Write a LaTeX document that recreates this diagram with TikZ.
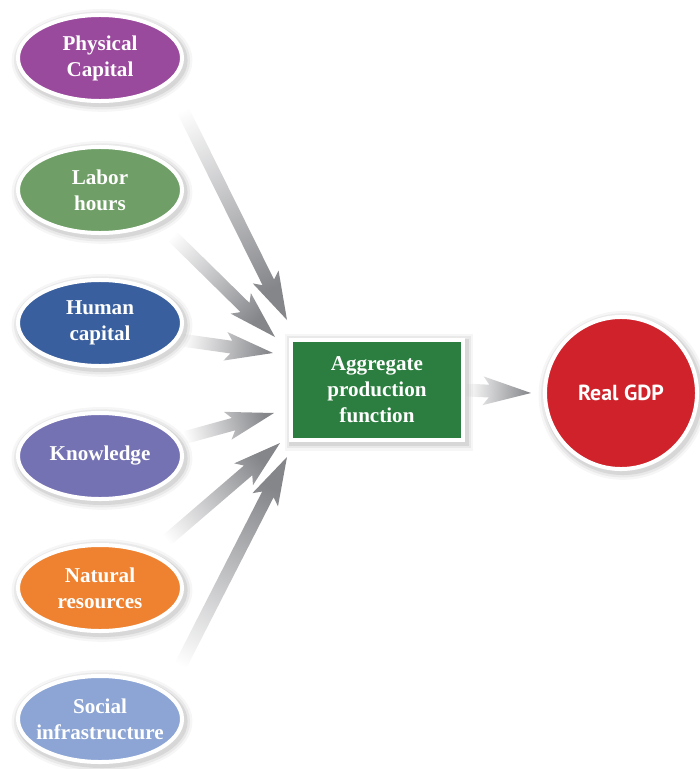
\documentclass[tikz,border=0pt]{standalone}
\usepackage{fontspec}
\setmainfont{Liberation Serif}
\newfontfamily\gdpfont{PT Sans}
\usetikzlibrary{arrows.meta,positioning,calc,backgrounds,shapes.geometric,shadows}
\definecolor{InPurple}{HTML}{9A4A9C}
\definecolor{InGreen}{HTML}{6F9E66}
\definecolor{InBlue}{HTML}{3A5F9E}
\definecolor{InLilac}{HTML}{7572B3}
\definecolor{InOrange}{HTML}{EE8231}
\definecolor{InSky}{HTML}{8CA5D4}
\definecolor{FuncGreen}{HTML}{2B7E3F}
\definecolor{GdpRed}{HTML}{D0222A}
\definecolor{FlowGray}{HTML}{85868A}
\tikzset{
  softshadow/.style={
    preaction={draw=black, line width=4.2mm, opacity=0.035,
                transform canvas={shift={(0.5mm,-0.6mm)}}},
    preaction={draw=black, line width=3mm, opacity=0.05,
                transform canvas={shift={(0.5mm,-0.6mm)}}},
    preaction={draw=black, line width=1.8mm, opacity=0.08,
                transform canvas={shift={(0.5mm,-0.6mm)}}}},
  inputnode/.style={ellipse, draw=white, line width=1mm, inner xsep=-0.45cm,
                    inner ysep=0pt, text width=3.3cm, align=center,
                    minimum width=4.1cm, minimum height=2.15cm,
                    font=\fontsize{15}{18.5}\selectfont\bfseries\color{white},
                    softshadow},
  funcbox/.style={rectangle, draw=white, line width=1.2mm, fill=FuncGreen,
                  minimum width=4.3cm, minimum height=2.5cm, align=center,
                  font=\fontsize{15}{18.5}\selectfont\bfseries\color{white},
                  softshadow},
  outnode/.style={circle, draw=white, line width=1mm, fill=GdpRed,
                  minimum size=3.8cm, inner sep=0pt,
                  font=\gdpfont\fontsize{15.5}{18}\selectfont\bfseries\color{white},
                  softshadow},
  flowshade/.style={bottom color=white, top color=FlowGray},
}
% gray arrow fading in from its tail: #1 tail, #2 tip
\newcommand\flowarrow[2]{%
  \pgfmathanglebetweenpoints{\pgfpointanchor{#1}{center}}{\pgfpointanchor{#2}{center}}%
  \pgfmathsetmacro\flowang{\pgfmathresult-90}%
  \coordinate (#1-b) at ($(#2)!1.05cm!(#1)$);
  \coordinate (#1-k) at ($(#2)!1.2cm!(#1)$);
  \shade[flowshade, shading angle=\flowang]
    ($(#1)!0.16cm!90:(#2)$) -- ($(#1-b)!0.16cm!90:(#2)$)
    -- ($(#1-k)!0.36cm!90:(#2)$) -- (#2)
    -- ($(#1-k)!0.36cm!-90:(#2)$) -- ($(#1-b)!0.16cm!-90:(#2)$)
    -- ($(#1)!0.16cm!-90:(#2)$) -- cycle;
}

\begin{document}
\begin{tikzpicture}[x=0.025cm, y=-0.025cm]
  \useasboundingbox (0,0) rectangle (699,769);

  % inputs
  \node[inputnode, fill=InPurple] (pc) at (100,58)  {Physical\\Capital};
  \node[inputnode, fill=InGreen]  (lh) at (100,190) {Labor\\hours};
  \node[inputnode, fill=InBlue]   (hc) at (100,323) {Human\\capital};
  \node[inputnode, fill=InLilac]  (kn) at (100,456) {Knowledge};
  \node[inputnode, fill=InOrange] (nr) at (100,588) {Natural\\resources};
  \node[inputnode, fill=InSky]    (si) at (100,719) {Social\\infrastructure};

  \node[funcbox] (apf) at (377,390) {Aggregate\\production\\function};
  \node[outnode] (gdp) at (621,393) {Real GDP};

  % arrow ends
  \coordinate (pc-t) at (pc.-20);  \coordinate (pc-h) at (287,320);
  \coordinate (lh-t) at (lh.-29);  \coordinate (lh-h) at (275,337);
  \coordinate (hc-t) at (hc.-12);  \coordinate (hc-h) at (273,353);
  \coordinate (kn-t) at (kn.12);   \coordinate (kn-h) at (274,413);
  \coordinate (nr-t) at (nr.34);   \coordinate (nr-h) at (280,443);
  \coordinate (si-t) at (si.22);   \coordinate (si-h) at (287,457);
  \coordinate (apf-t) at (apf.east);
  \coordinate (gdp-h) at ([xshift=-0.3cm]gdp.west);

  \begin{scope}[on background layer]
    \flowarrow{pc-t}{pc-h}
    \flowarrow{lh-t}{lh-h}
    \flowarrow{hc-t}{hc-h}
    \flowarrow{kn-t}{kn-h}
    \flowarrow{nr-t}{nr-h}
    \flowarrow{si-t}{si-h}
    \flowarrow{apf-t}{gdp-h}
  \end{scope}
\end{tikzpicture}
\end{document}
